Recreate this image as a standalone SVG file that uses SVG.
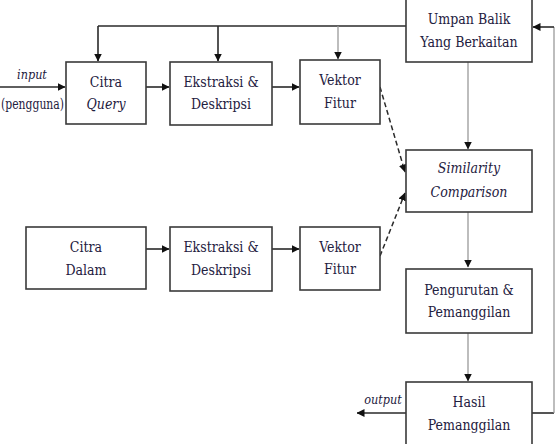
<svg xmlns="http://www.w3.org/2000/svg" width="560" height="444" viewBox="0 0 560 444">
<style>
.box{fill:#fff;stroke:#3a3a3a;stroke-width:1.6}
.t{font-family:'DejaVu Serif Condensed','DejaVu Serif',serif;font-stretch:condensed;font-size:14px;fill:#1e2040;text-anchor:middle}
.i{font-style:italic}
.sm{font-size:12.5px}
.dk{fill:none;stroke:#2a2a2a;stroke-width:1.6}
.lt{fill:none;stroke:#9a9a9a;stroke-width:1.3}
.ds{fill:none;stroke:#2a2a2a;stroke-width:1.5;stroke-dasharray:5,3}
</style>
<defs>
<marker id="ah" markerWidth="8" markerHeight="8" refX="7.5" refY="4" orient="auto" markerUnits="userSpaceOnUse">
<path d="M0,0 L8,4 L0,8 Z" fill="#111"/>
</marker>
</defs>
<rect width="560" height="444" fill="#fff"/>
<g id="connectors">
<path class="dk" d="M98,26 L406,26"/>
<path class="dk" d="M98,26 L98,61" marker-end="url(#ah)"/>
<path class="dk" d="M218,26 L218,61" marker-end="url(#ah)"/>
<path class="lt" d="M338,26 L338,59" marker-end="url(#ah)"/>
<path class="dk" d="M0,87 L65,87" marker-end="url(#ah)"/>
<path class="dk" d="M146,87 L169,87" marker-end="url(#ah)"/>
<path class="dk" d="M272,87 L299,87" marker-end="url(#ah)"/>
<path class="dk" d="M146,249 L169,249" marker-end="url(#ah)"/>
<path class="dk" d="M272,249 L299,249" marker-end="url(#ah)"/>
<path class="ds" d="M380,87 L405,172" marker-end="url(#ah)"/>
<path class="ds" d="M380,256 L405,193" marker-end="url(#ah)"/>
<path class="lt" d="M468,62 L468,149" marker-end="url(#ah)"/>
<path class="lt" d="M468,212 L468,267" marker-end="url(#ah)"/>
<path class="lt" d="M468,333 L468,381" marker-end="url(#ah)"/>
<path class="dk" d="M406,413 L357,413" marker-end="url(#ah)"/>
<path class="dk" d="M532,413 L554,413"/>
<path class="lt" d="M554,413 L554,27"/>
<path class="dk" d="M554,27 L533,27" marker-end="url(#ah)"/>
</g>
<g id="input-label">
<text class="t i sm" x="32" y="79">input</text>
<text class="t" x="1" y="109" style="text-anchor:start" textLength="63" lengthAdjust="spacingAndGlyphs">(pengguna)</text>
</g>
<g id="output-label">
<text class="t i sm" x="383" y="404">output</text>
</g>
<g id="citra-query">
<rect class="box" x="66" y="62" width="80" height="62"/>
<text class="t" x="106" y="87">Citra</text>
<text class="t i" x="106" y="109">Query</text>
</g>
<g id="ekstraksi-1">
<rect class="box" x="170" y="62" width="102" height="63"/>
<text class="t" x="221" y="87">Ekstraksi &amp;</text>
<text class="t" x="221" y="109">Deskripsi</text>
</g>
<g id="vektor-1">
<rect class="box" x="300" y="60" width="80" height="64"/>
<text class="t" x="340" y="85">Vektor</text>
<text class="t" x="340" y="108">Fitur</text>
</g>
<g id="umpan-balik">
<rect class="box" x="406" y="-2" width="126" height="64"/>
<text class="t" x="469" y="24">Umpan Balik</text>
<text class="t" x="469" y="47">Yang Berkaitan</text>
</g>
<g id="similarity">
<rect class="box" x="406" y="150" width="126" height="62"/>
<text class="t i" x="469" y="173">Similarity</text>
<text class="t i" x="469" y="197">Comparison</text>
</g>
<g id="citra-dalam">
<rect class="box" x="26" y="227" width="120" height="62"/>
<text class="t" x="86" y="252">Citra</text>
<text class="t" x="86" y="275">Dalam</text>
</g>
<g id="ekstraksi-2">
<rect class="box" x="170" y="227" width="102" height="64"/>
<text class="t" x="221" y="252">Ekstraksi &amp;</text>
<text class="t" x="221" y="275">Deskripsi</text>
</g>
<g id="vektor-2">
<rect class="box" x="300" y="227" width="80" height="63"/>
<text class="t" x="340" y="252">Vektor</text>
<text class="t" x="340" y="274">Fitur</text>
</g>
<g id="pengurutan">
<rect class="box" x="406" y="269" width="126" height="64"/>
<text class="t" x="469" y="295">Pengurutan &amp;</text>
<text class="t" x="469" y="317">Pemanggilan</text>
</g>
<g id="hasil">
<rect class="box" x="406" y="382" width="126" height="66"/>
<text class="t" x="469" y="407">Hasil</text>
<text class="t" x="469" y="430">Pemanggilan</text>
</g>
</svg>
